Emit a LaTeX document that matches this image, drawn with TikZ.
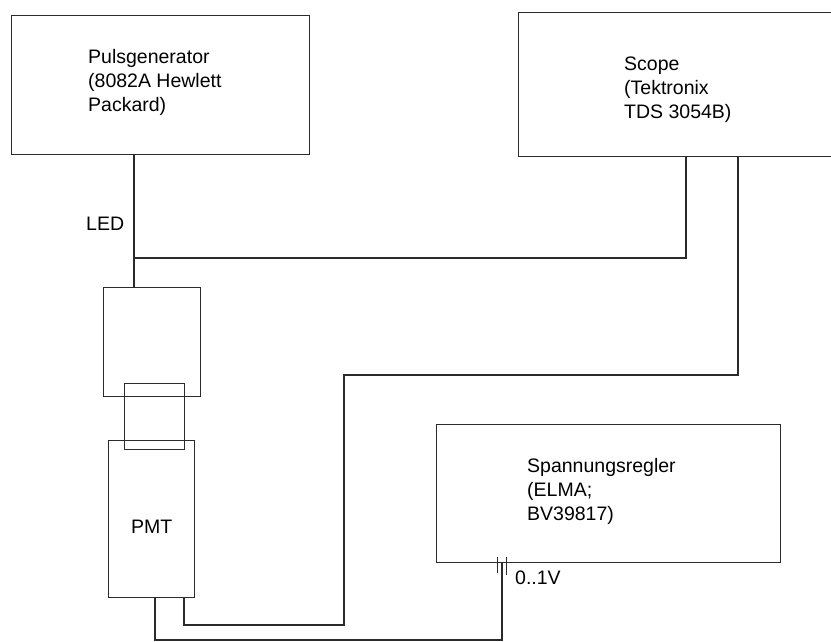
\documentclass[tikz,border=0pt]{standalone}
\usepackage{fontspec}
\setmainfont{Liberation Sans}
\usetikzlibrary{positioning,calc}
\definecolor{WireGray}{HTML}{2B2B2B}
\tikzset{
  devicebox/.style={draw=WireGray,line width=1.4pt,rectangle,inner sep=0pt,anchor=north west},
  devicetext/.style={anchor=base west,inner sep=0pt,align=left,font=\fontsize{19.5}{24}\selectfont},
  wire/.style={draw=WireGray,line width=1.4pt},
  tick/.style={draw=WireGray,line width=1pt}
}
\begin{document}
\begin{tikzpicture}[x=1pt,y=-1pt]
\useasboundingbox (0,0) rectangle (831,642);
\node[devicebox,minimum width=298,minimum height=139] (pulsgen) at (11,15) {};
\node[devicebox,minimum width=320,minimum height=144] (scope) at (518,12) {};
\node[devicebox,minimum width=344,minimum height=138] (regler) at (436,424) {};
\node[devicebox,minimum width=97,minimum height=109] (led) at (103,287) {};
\node[devicebox,minimum width=86,minimum height=157] (pmt) at (108,440) {};
\node[devicebox,minimum width=60,minimum height=66] (koppler) at (124,383) {};
\node[devicetext] (pulsgentext) at (88,111) {Pulsgenerator\\(8082A Hewlett\\Packard)};
\node[devicetext] (scopetext) at (624,118) {Scope\\(Tektronix\\TDS 3054B)};
\node[devicetext] (reglertext) at (527,520) {Spannungsregler\\(ELMA;\\BV39817)};
\node[devicetext] (ledtext) at (86,230) {LED};
\node[devicetext] (pmttext) at (131,533) {PMT};
\node[devicetext] (range) at (515,584) {0..1V};
\coordinate (ledin) at ($(led.north west)+(31,0)$);
\coordinate (ledtap) at ($(ledin)+(0,-29)$);
\draw[wire] (pulsgen.south -| ledin) -- (ledin);
\draw[wire] (ledtap) -| ($(scope.south west)+(168,0)$);
\draw[wire] ($(scope.south west)+(220,0)$) |- (344,375) -- (344,625) -| ($(pmt.south west)+(76,0)$);
\draw[wire] ($(pmt.south west)+(47,0)$) |- (502,640) -- ($(regler.south west)+(66,0)$);
\draw[tick] (497,557) -- (497,573);
\draw[tick] (506,557) -- (506,575);
\end{tikzpicture}
\end{document}
